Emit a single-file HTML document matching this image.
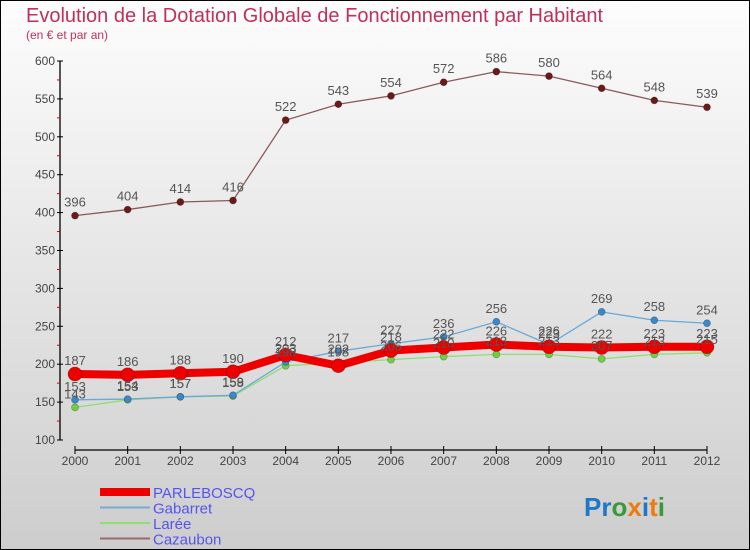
<!DOCTYPE html>
<html><head><meta charset="utf-8"><style>
body{margin:0}
#c{width:750px;height:550px;position:relative;overflow:hidden;font-family:"Liberation Sans",sans-serif}
</style></head><body>
<div id="c">
<svg id="svg" width="750" height="550" xmlns="http://www.w3.org/2000/svg">
<defs><linearGradient id="bg" x1="0" y1="0" x2="0" y2="1"><stop offset="0" stop-color="#fdfdfd"/><stop offset="1" stop-color="#cdcdcd"/></linearGradient></defs>
<rect x="0.5" y="0.5" width="749" height="549" fill="url(#bg)" stroke="#000" stroke-width="1"/>
<text x="26" y="22" font-size="20" fill="#c0305a">Evolution de la Dotation Globale de Fonctionnement par Habitant</text>
<text x="26" y="39" font-size="12" fill="#c0305a">(en € et par an)</text>
<g id="axes"></g>
<g id="series"></g>
<g id="legend"></g>
<text x="584" y="516" font-size="26" font-weight="bold"><tspan fill="#1f77c8">Pr</tspan><tspan fill="#3a9a3a">o</tspan><tspan fill="#f07a10">x</tspan><tspan fill="#1f77c8">i</tspan><tspan fill="#f07a10">t</tspan><tspan fill="#3a9a3a">i</tspan></text>
</svg>
</div>
<script>
const years=[2000,2001,2002,2003,2004,2005,2006,2007,2008,2009,2010,2011,2012];
const yTicks=[100,150,200,250,300,350,400,450,500,550,600];
const parleboscq=[187,186,188,190,212,198,218,222,226,223,222,223,223];
const gabarret=[153,154,157,159,203,217,227,236,256,226,269,258,254];
const laree=[143,153,157,158,198,202,206,210,213,213,207,213,215];
const cazaubon=[396,404,414,416,522,543,554,572,586,580,564,548,539];
const seriesNames=["PARLEBOSCQ","Gabarret","Larée","Cazaubon"];

const NS="http://www.w3.org/2000/svg";
function xs(i){return 75+i*(707-75)/(years.length-1);}
function ys(v){return 440-(v-100)*(440-61)/500;}
function mk(tag,attrs,parent,text){const e=document.createElementNS(NS,tag);for(const k in attrs)e.setAttribute(k,attrs[k]);if(text!==undefined)e.textContent=text;parent.appendChild(e);return e;}
const axes=document.getElementById('axes');
let e=mk('line',{x1:60,y1:61,x2:60,y2:440,stroke:'#000','stroke-width':1.3},axes);


yTicks.forEach(t=>{
 const y=ys(t);
 mk('line',{x1:57,x2:63,y1:y,y2:y,stroke:'#000'},axes);
 if(t<600) mk('line',{x1:57,x2:60,y1:ys(t+25),y2:ys(t+25),stroke:'#d00'},axes);
 const l=mk('text',{x:55,y:y+4,'font-size':12,fill:'#444','text-anchor':'end'},axes,t);
 
 
});
e=mk('line',{x1:75,y1:450,x2:707,y2:450,stroke:'#000','stroke-width':1.3},axes);


years.forEach((yr,i)=>{
 const x=xs(i);
 mk('line',{x1:x,x2:x,y1:446,y2:454,stroke:'#000'},axes);
 const l=mk('text',{x:x,y:465,'font-size':12,fill:'#444','text-anchor':'middle'},axes,yr);
 
 
});
const ser=document.getElementById('series');
const defs=[
 {d:cazaubon,c:'#8a5a5a',dot:'#6b1a1a',w:1.3,r:3.5,n:'cazaubon'},
 {d:laree,c:'#90dd70',dot:'#6fcf40',w:1.3,r:3.5,n:'laree'},
 {d:gabarret,c:'#6aa8d8',dot:'#3a88c8',w:1.3,r:3.5,n:'gabarret'},
 {d:parleboscq,c:'#ee0000',dot:'#ee0000',w:8,r:7,n:'parleboscq'}
];
defs.forEach(s=>{
 const g=mk('g',{},ser);
 
 
 const p=mk('polyline',{points:s.d.map((v,i)=>xs(i)+','+ys(v)).join(' '),fill:'none',stroke:s.c,'stroke-width':s.w},g);
 
 
 s.d.forEach((v,i)=>{
  const c=mk('circle',{cx:xs(i),cy:ys(v),r:s.r,fill:s.dot,stroke:'rgba(0,0,0,0.3)','stroke-width':0.7},g);
  
  
 });
});
defs.forEach(s=>{
 s.d.forEach((v,i)=>{
  const t=mk('text',{x:xs(i),y:ys(v)-9,'font-size':13,fill:'#555','text-anchor':'middle'},ser,v);
  
  
 });
});
const leg=document.getElementById('legend');
const legStyles=[['#ee0000',8],['#7aaad0',2],['#90dd70',2],['#9a6a6a',2]];
seriesNames.forEach((n,i)=>{
 const y=492+i*15.5;
 const g=mk('g',{},leg);
 
 
 mk('line',{x1:100,x2:150,y1:y,y2:y,stroke:legStyles[i][0],'stroke-width':legStyles[i][1]},g);
 mk('text',{x:153,y:y+6,'font-size':15,fill:'#5555ee'},g,n);
});
</script>
</body></html>
